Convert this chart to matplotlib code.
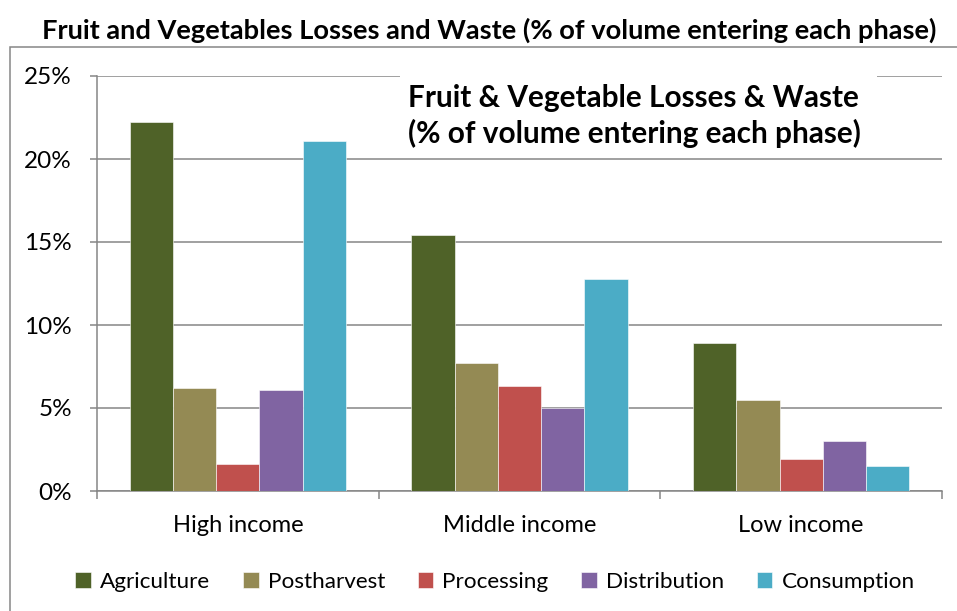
import numpy as np
import matplotlib
matplotlib.use("Agg")
import matplotlib.pyplot as plt
from matplotlib.patches import Rectangle
from matplotlib.ticker import FuncFormatter

plt.rcParams['font.family'] = ['Lato', 'DejaVu Sans']

categories = ['High income', 'Middle income', 'Low income']
phases = ['Agriculture', 'Postharvest', 'Processing', 'Distribution', 'Consumption']
agriculture = [22.2, 15.4, 8.9]
postharvest = [6.2, 7.7, 5.5]
processing = [1.6, 6.3, 1.9]
distribution = [6.1, 5.0, 3.0]
consumption = [21.1, 12.8, 1.5]
colors = ['#4F6228', '#948A54', '#C0504D', '#8064A2', '#4BACC6']

W, H = 957, 611
grid_c = '#868686'

fig = plt.figure(figsize=(W / 100, H / 100), dpi=100)
ax = fig.add_axes([97 / W, 1 - 491 / H, (942 - 97) / W, (491 - 76) / H])

series = [agriculture, postharvest, processing, distribution, consumption]
x = np.arange(len(categories))
bw = 0.1535
for i, (vals, col, name) in enumerate(zip(series, colors, phases)):
    ax.bar(x + (i - 2) * bw, vals, width=bw, color=col, label=name,
           edgecolor='white', linewidth=0.4, zorder=3)

ax.set_xlim(-0.5, 2.5)
ax.set_ylim(0, 25)
ax.set_yticks(np.arange(0, 26, 5))
ax.yaxis.set_major_formatter(FuncFormatter(lambda v, p: f'{v:.0f}%'))
ax.grid(axis='y', color=grid_c, linewidth=1.1, zorder=0)

ax.set_xticks([-0.5, 0.5, 1.5, 2.5])
ax.set_xticklabels([])
ax.set_xticks(x, minor=True)
ax.set_xticklabels(categories, minor=True)
ax.tick_params(axis='x', which='major', length=6, width=1.1, color=grid_c)
ax.tick_params(axis='x', which='minor', length=0, pad=17, labelsize=17)
ax.tick_params(axis='y', length=5, width=1.1, color=grid_c, pad=13, labelsize=17.5)

for s in ['top', 'right']:
    ax.spines[s].set_visible(False)
for s in ['left', 'bottom']:
    ax.spines[s].set_color(grid_c)
    ax.spines[s].set_linewidth(1.1)

# inner chart title with white box over gridlines
fig.add_artist(Rectangle((400 / W, 1 - 155 / H), 477 / W, 85 / H,
                         transform=fig.transFigure, facecolor='white',
                         edgecolor='none', zorder=4))
fig.text(408 / W, 1 - 116 / H,
         'Fruit & Vegetable Losses & Waste\n(% of volume entering each phase)',
         ha='left', va='center', fontsize=21.4, fontweight='bold',
         linespacing=1.25, zorder=5)

# outer title and frame
fig.text(489 / W, 1 - 30 / H,
         'Fruit and Vegetables Losses and Waste (% of volume entering each phase)',
         ha='center', va='center', fontsize=19.6, fontweight='bold')
fig.add_artist(Rectangle((10 / W, -0.1), 1.2, 1.1 - 47 / H,
                         transform=fig.transFigure, fill=False,
                         edgecolor=grid_c, linewidth=1.1))

fig.legend(loc='center', bbox_to_anchor=(495 / W, 1 - 582 / H), ncol=5,
           frameon=False, fontsize=16.2, handlelength=0.7, handleheight=0.7,
           handletextpad=0.4, columnspacing=1.45)

fig.savefig('out.png', dpi=100)
